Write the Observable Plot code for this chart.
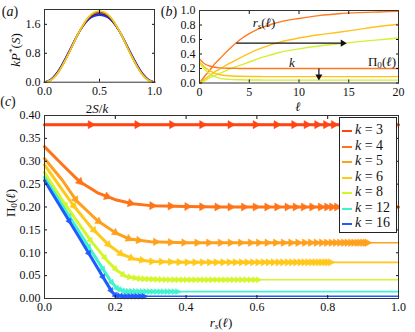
<!DOCTYPE html>
<html><head><meta charset="utf-8">
<script src="https://cdn.jsdelivr.net/npm/d3@7"></script>
<script src="https://cdn.jsdelivr.net/npm/@observablehq/plot@0.6"></script>
<style>
body{margin:0;background:#fff;}
#fig{position:relative;width:415px;height:332px;overflow:hidden;font-family:"Liberation Serif",serif;color:#111;background:#fff;}
#fig svg{position:absolute;}
.lab{position:absolute;font-size:13px;line-height:1;white-space:nowrap;transform:translate(-50%,-50%);}
.rot{transform:translate(-50%,-50%) rotate(-90deg);}
.lab sub{font-size:70%;vertical-align:-0.3em;line-height:0;}
.lab sup{font-size:70%;vertical-align:0.5em;line-height:0;}
#legend{position:absolute;left:339px;top:117px;width:56px;height:114px;border:1px solid #222;background:#fff;}
.lrow{position:absolute;left:0;height:14px;font-size:14px;line-height:14px;white-space:nowrap;}
.lrow span.sw{position:absolute;left:2px;top:7px;width:10px;height:2px;}
.lrow span.tx{position:absolute;left:15px;top:0;}
</style></head><body><div id="fig"></div>
<script>
// ---------- Panel (a): kP*(S) vs 2S/k ----------
const aX = [0,0.05,0.1,0.15,0.2,0.25,0.3,0.35,0.4,0.45,0.5,0.55,0.6,0.65,0.7,0.75,0.8,0.85,0.9,0.95,1];
const aBlue   = [0,.06,.21,.44,.72,1.02,1.31,1.55,1.73,1.82,1.85,1.82,1.73,1.55,1.31,1.02,.72,.44,.21,.06,0];
const aNavy   = [0,.055,.19,.42,.70,1.00,1.30,1.55,1.75,1.86,1.89,1.86,1.75,1.55,1.30,1.00,.70,.42,.19,.055,0];
const aRed    = [0,.05,.18,.40,.68,.99,1.30,1.57,1.78,1.90,1.94,1.90,1.78,1.57,1.30,.99,.68,.40,.18,.05,0];
const aOrange = [0,.045,.175,.395,.675,.985,1.30,1.575,1.79,1.915,1.955,1.915,1.79,1.575,1.30,.985,.675,.395,.175,.045,0];
const aYellow = [0,.04,.17,.39,.67,.98,1.30,1.58,1.80,1.93,1.97,1.93,1.80,1.58,1.30,.98,.67,.39,.17,.04,0];
const aSeries = [aBlue, aNavy, aRed, aOrange, aYellow];
const aColors = ["#1f2fff", "#2a2a7a", "#b01c2e", "#ee7a1a", "#e6d21e"];
const aXTicks = [0, 0.5, 1];
const aYTicks = [0, 0.8, 1.6];

// ---------- Panel (b): r_s(l) and Pi_0(l) vs l ----------
const bEll = [0,0.5,1,1.5,2,3,4,5,6,7,8,10,12,14,16,18,20];
const bRs4 = [0,.09,.17,.26,.33,.47,.59,.68,.75,.80,.84,.89,.93,.955,.97,.98,.99];
const bRs6 = [0,.05,.10,.15,.19,.27,.34,.41,.47,.52,.56,.62,.665,.70,.74,.78,.81];
const bRs8 = [0,.03,.07,.10,.13,.19,.24,.29,.34,.38,.42,.47,.51,.54,.57,.595,.62];
const bPi4 = [.333,.265,.235,.218,.209,.203,.201,.2,.2,.2,.2,.2,.2,.2,.2,.2,.2];
const bPi6 = [.292,.22,.17,.137,.117,.099,.093,.090,.089,.088,.088,.088,.088,.088,.088,.088,.088];
const bPi8 = [.276,.19,.13,.092,.068,.05,.044,.042,.041,.04,.04,.04,.04,.04,.04,.04,.04];
const bColors = ["#ff7a1f", "#ffc21a", "#d4f030"];
const bArrowH = {x1: 3.7, x2: 14.8, y: 0.55};
const bArrowV = {x: 12, y1: 0.2, y2: 0.035};
const bXTicks = [0, 5, 10, 15, 20];
const bYTicks = [0, 0.2, 0.4, 0.6, 0.8, 1.0];

// ---------- Panel (c): flows Pi_0 vs r_s ----------
const ks = [3, 4, 5, 6, 8, 12, 16];
const kColors = ["#ff4513", "#ff7418", "#ffa01c", "#ffc81a", "#d4f52c", "#42f2cc", "#1f5cff"];
const path3  = [[0,0.38],[1,0.38]];
const path4  = [[0,0.332],[0.05,0.293],[0.1,0.255],[0.15,0.231],[0.2,0.216],[0.25,0.207],[0.3,0.203],[0.4,0.201],[0.5,0.2],[1,0.2]];
const path5  = [[0,0.306],[0.05,0.259],[0.09,0.214],[0.15,0.170],[0.2,0.144],[0.24,0.130],[0.3,0.124],[0.4,0.122],[1,0.122]];
const path6  = [[0,0.292],[0.08,0.205],[0.13,0.157],[0.18,0.118],[0.215,0.098],[0.25,0.087],[0.3,0.081],[0.4,0.079],[1,0.079]];
const path8  = [[0,0.276],[0.05,0.215],[0.13,0.127],[0.18,0.08],[0.205,0.061],[0.23,0.048],[0.27,0.043],[0.35,0.041],[1,0.041]];
const path12 = [[0,0.265],[0.1,0.143],[0.186,0.039],[0.205,0.022],[0.225,0.016],[0.3,0.015],[1,0.015]];
const path16 = [[0,0.258],[0.1,0.131],[0.19,0.015],[0.2,0.007],[0.22,0.005],[1,0.005]];
const arrows3  = [0.13,0.262,0.36,0.445,0.525,0.596,0.655,0.705,0.74,0.77,0.795,0.817,0.84,0.86,0.88,0.9,0.92,0.94,0.96,0.98];
const arrows4  = [0.1,0.177,0.243,0.304,0.356,0.403,0.445,0.488,0.525,0.563,0.596,0.629,0.657,0.686,0.709,0.732,0.756,0.78,0.798,0.812,0.826,0.84,0.855,0.87,0.885,0.9,0.915,0.93,0.945,0.96,0.975,0.99];
const arrows5  = [0.088,0.153,0.2,0.238,0.266,0.314,0.356,0.394,0.431,0.464,0.497,0.525,0.554,0.582,0.605,0.629,0.653,0.675,0.696,0.716,0.735,0.752,0.768,0.783,0.797,0.81,0.822,0.834,0.845,0.855,0.865,0.874,0.883,0.891,0.899,0.906,0.912];
const arrows6  = [0.083,0.14,0.18,0.215,0.245,0.275,0.303,0.33,0.356,0.38,0.403,0.425,0.446,0.466,0.485,0.504,0.522,0.539,0.556,0.572,0.588,0.603,0.618,0.632,0.646,0.66,0.673,0.686,0.698,0.71,0.722,0.733,0.744,0.754,0.764,0.774,0.783,0.792,0.8,0.808];
const arrows8  = [0.06,0.13,0.17,0.2,0.222,0.24,0.255,0.268,0.28,0.292,0.304,0.316,0.328,0.34,0.352,0.364,0.376,0.388,0.4,0.412,0.424,0.436,0.448,0.46,0.472,0.484,0.496,0.508,0.52,0.532,0.544,0.556,0.568,0.58,0.592,0.603];
const arrows12 = [0.07,0.125,0.165,0.19,0.205,0.215,0.225,0.235,0.245,0.255,0.265,0.275,0.285,0.295,0.305,0.315,0.325,0.335,0.345,0.355,0.365,0.375];
const arrows16 = [0.07,0.125,0.165,0.188,0.2,0.21,0.22,0.23,0.24,0.25,0.26,0.27,0.28];
const thickEnd = [1, 1, 0.915, 0.81, 0.605, 0.38, 0.285];
const arrowSize = [3, 3, 2.8, 2.7, 2.3, 2.2, 2.2];
const cXTicks = [0, 0.2, 0.4, 0.6, 0.8, 1.0];
const cYTicks = [0, 0.05, 0.10, 0.15, 0.20, 0.25, 0.30, 0.35, 0.40];
const paths = [path3, path4, path5, path6, path8, path12, path16];
const arrowsR = [arrows3, arrows4, arrows5, arrows6, arrows8, arrows12, arrows16];

const fig = document.getElementById("fig");
const baseStyle = {background: "none", fontFamily: "Liberation Serif", fontSize: "12px", color: "#111", overflow: "visible"};

function axes(xTicks, yTicks, xFmt, yFmt) {
  return [
    Plot.axisX({anchor: "bottom", ticks: xTicks, tickSize: -3, tickPadding: 7, tickFormat: xFmt, label: null}),
    Plot.axisX({anchor: "top", ticks: xTicks, tickSize: -3, tickFormat: () => "", label: null}),
    Plot.axisY({anchor: "left", ticks: yTicks, tickSize: -3, tickPadding: 7, tickFormat: yFmt, label: null}),
    Plot.axisY({anchor: "right", ticks: yTicks, tickSize: -3, tickFormat: () => "", label: null}),
    Plot.frame({stroke: "#333", strokeWidth: 1})
  ];
}
function place(svg, left, top) { svg.style.left = left + "px"; svg.style.top = top + "px"; fig.appendChild(svg); }

// Panel (a)
{
  const marks = aSeries.map((vals, i) =>
    Plot.line(aX.map((x, j) => ({x, y: vals[j]})), {x: "x", y: "y", stroke: aColors[i], strokeWidth: 1.6, curve: "natural"}));
  const svg = Plot.plot({
    width: 160, height: 100, marginLeft: 44, marginRight: 6, marginTop: 9, marginBottom: 18.3,
    x: {domain: [0, 1]}, y: {domain: [0, 2.01]}, style: baseStyle,
    marks: [...marks, ...axes(aXTicks, aYTicks, d3.format(".1f"), d3.format(".1f"))]
  });
  place(svg, 0, 0);
}

// Panel (b)
{
  const series = [bRs4, bRs6, bRs8, bPi4, bPi6, bPi8];
  const cols = [bColors[0], bColors[1], bColors[2], bColors[0], bColors[1], bColors[2]];
  const marks = series.map((vals, i) =>
    Plot.line(bEll.map((x, j) => ({x, y: vals[j]})), {x: "x", y: "y", stroke: cols[i], strokeWidth: 1.4, curve: "monotone-x"}));
  const svg = Plot.plot({
    width: 255, height: 100, marginLeft: 39, marginRight: 17, marginTop: 10, marginBottom: 17.5,
    x: {domain: [0, 20]}, y: {domain: [0, 1]}, style: baseStyle,
    marks: [
      ...marks,
      Plot.link([bArrowH], {x1: "x1", x2: d => d.x2 - 0.3, y1: "y", y2: "y", stroke: "#111", strokeWidth: 1.2}),
      Plot.dot([bArrowH], {x: "x2", y: "y", symbol: "triangle", rotate: 90, r: 2.6, fill: "#111", dx: -4}),
      Plot.link([bArrowV], {x1: "x", x2: "x", y1: "y1", y2: d => d.y2 + 0.03, stroke: "#111", strokeWidth: 1.2}),
      Plot.dot([bArrowV], {x: "x", y: "y2", symbol: "triangle", rotate: 180, r: 2.6, fill: "#111", dy: -4}),
      ...axes(bXTicks, bYTicks, d3.format("d"), d3.format(".1f"))
    ]
  });
  place(svg, 160, 0);
}

// Panel (c)
{
  const W = 415, H = 227, ml = 44, mr = 17, mt = 10, mb = 34;
  const sx = (W - ml - mr) / 1, sy = (H - mt - mb) / 0.4;
  function at(path, r) {
    for (let i = 0; i < path.length - 1; i++) {
      const [r1, p1] = path[i], [r2, p2] = path[i + 1];
      if (r <= r2 || i === path.length - 2) {
        const t = (r - r1) / (r2 - r1);
        const ang = Math.atan2(-(p2 - p1) * sy, (r2 - r1) * sx) * 180 / Math.PI;
        return {r, p: p1 + t * (p2 - p1), rot: 90 + ang};
      }
    }
  }
  const marks = [];
  paths.forEach((path, i) => {
    const col = kColors[i];
    marks.push(Plot.line(path, {x: d => d[0], y: d => d[1], stroke: col, strokeWidth: 1.6}));
    const end = thickEnd[i];
    const thick = path.filter(d => d[0] < end);
    const e = at(path, end);
    thick.push([end, e.p]);
    marks.push(Plot.line(thick, {x: d => d[0], y: d => d[1], stroke: col, strokeWidth: 3}));
    const arr = arrowsR[i].map(r => at(path, r));
    marks.push(Plot.dot(arr, {x: "r", y: "p", rotate: "rot", symbol: "triangle", r: arrowSize[i], fill: col, stroke: col, strokeWidth: 0.5}));
  });
  const svg = Plot.plot({
    width: W, height: H, marginLeft: ml, marginRight: mr, marginTop: mt, marginBottom: mb,
    x: {domain: [0, 1]}, y: {domain: [0, 0.4]}, style: baseStyle,
    marks: [...marks, ...axes(cXTicks, cYTicks, d3.format(".1f"), d3.format(".2f"))]
  });
  place(svg, 0, 105);
}

// Labels
function lab(html, x, y, cls = "", size = 13) {
  const d = document.createElement("div");
  d.className = "lab " + cls;
  d.style.left = x + "px"; d.style.top = y + "px"; d.style.fontSize = size + "px";
  d.innerHTML = html;
  fig.appendChild(d);
  return d;
}
lab("(<i>a</i>)", 10, 12, "", 14);
lab("(<i>b</i>)", 169, 12, "", 14);
lab("(<i>c</i>)", 8, 102, "", 14);
lab("<i>k</i><i>P</i><sup>*</sup>(<i>S</i>)", 15, 50, "rot", 13);
lab("2<i>S</i>/<i>k</i>", 97, 108, "", 13);
lab("<i>ℓ</i>", 298, 106, "", 13);
lab("Π<sub>0</sub>(<i>ℓ</i>)", 10, 203, "rot", 13);
lab("<i>r<sub>s</sub></i>(<i>ℓ</i>)", 221, 322, "", 13);
lab("<i>r<sub>s</sub></i>(<i>ℓ</i>)", 264, 22, "", 13);
lab("<i>k</i>", 292, 62, "", 13);
lab("Π<sub>0</sub>(<i>ℓ</i>)", 382, 61, "", 13);

// Legend
const legend = document.createElement("div");
legend.id = "legend";
ks.forEach((k, i) => {
  const row = document.createElement("div");
  row.className = "lrow";
  row.style.top = (5 + 15.5 * i) + "px";
  row.innerHTML = `<span class="sw" style="background:${kColors[i]}"></span><span class="tx"><i>k</i> = ${k}</span>`;
  legend.appendChild(row);
});
fig.appendChild(legend);
</script></body></html>
